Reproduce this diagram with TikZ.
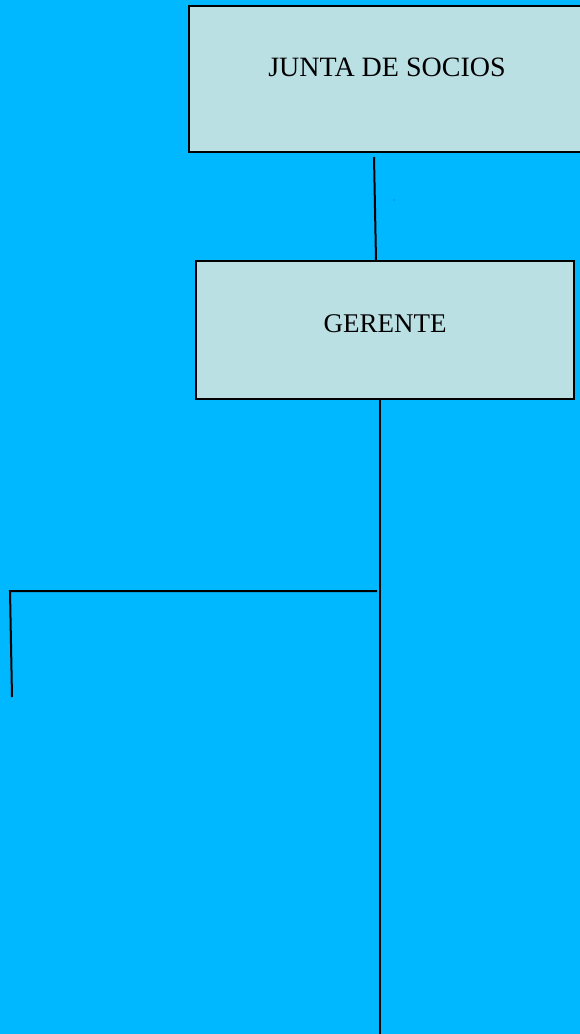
\documentclass[tikz,border=0pt]{standalone}
\usepackage{fontspec}
\setmainfont{Liberation Serif}
\definecolor{bgblue}{RGB}{0,184,255}
\definecolor{boxfill}{RGB}{186,224,228}
\begin{document}
\begin{tikzpicture}[x=1pt,y=-1pt,
  orgbox/.style={draw=black,line width=2.8pt,fill=boxfill,rectangle,inner sep=0pt},
  lbl/.style={font=\fontsize{27}{31}\selectfont,inner sep=0pt},
  conn/.style={draw=black,line width=2pt}]
\path[use as bounding box,fill=bgblue] (0,0) rectangle (580,1034);
\begin{scope}
\clip (0,0) rectangle (580,1034);
\node[orgbox,minimum width=400pt,minimum height=146pt] (junta) at (389,79) {};
\node[lbl,font=\fontsize{28}{32}\selectfont] (juntatxt) at (387,67) {JUNTA DE SOCIOS};
\node[orgbox,minimum width=378pt,minimum height=138pt] (gerente) at (385,330) {};
\node[lbl] (gerentetxt) at (385,324) {GERENTE};
\coordinate (a1) at (374,157);
\coordinate (a2) at (376,260);
\coordinate (b1) at (380,400);
\coordinate (b2) at (380,1040);
\coordinate (h1) at (377,591);
\coordinate (h2) at (10,591);
\coordinate (h3) at (12,697);
\draw[conn] (a1) -- (a2);
\draw[conn] (gerente.south -| b1) -- (b2);
\draw[conn] (h1) -- (h2) -- (h3);
\fill[black!70] (394,200) circle (0.6pt);
\end{scope}
\end{tikzpicture}
\end{document}
